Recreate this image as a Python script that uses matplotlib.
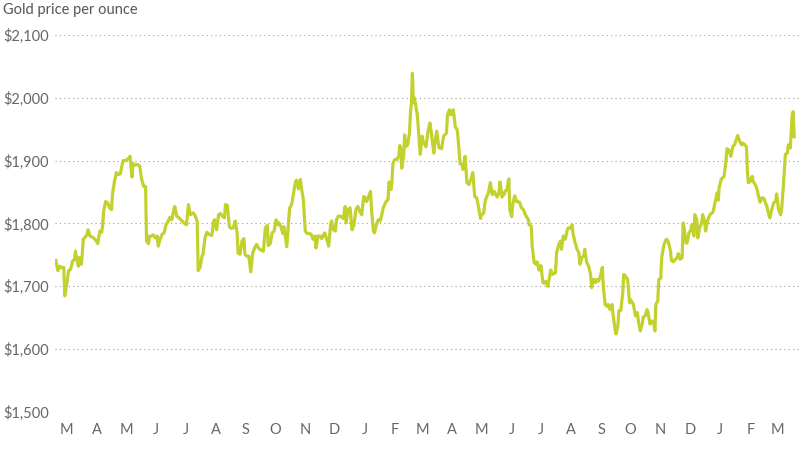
import matplotlib
matplotlib.use("Agg")
import matplotlib.pyplot as plt
import pandas as pd
import numpy as np

plt.rcParams['font.family'] = ['Lato', 'DejaVu Sans']

# Days since 2021-03-01 and gold price per ounce (USD)
days = [4, 5, 6, 8, 10, 12, 13, 15, 17, 19, 21, 23, 24, 25, 27, 28, 30, 31, 32, 34,
        36, 37, 39, 42, 44, 47, 49, 51, 52, 53, 55, 57, 59, 61, 62, 64, 65, 66, 68, 70,
        72, 73, 75, 77, 79, 80, 82, 83, 85, 88, 90, 92, 94, 96, 97, 99, 100, 102, 104, 106,
        108, 109, 111, 113, 115, 117, 119, 121, 123, 125, 126, 128, 131, 133, 136, 138, 140, 141, 142, 145,
        147, 149, 150, 152, 154, 155, 157, 159, 161, 164, 166, 167, 169, 171, 173, 174, 177, 178, 180, 182,
        184, 186, 188, 190, 191, 193, 195, 197, 198, 200, 202, 204, 206, 208, 210, 212, 215, 217, 219, 221,
        222, 224, 226, 228, 230, 232, 233, 235, 237, 238, 241, 243, 244, 246, 248, 250, 251, 253, 255, 256,
        258, 260, 262, 264, 266, 268, 270, 271, 273, 275, 277, 279, 280, 282, 284, 286, 287, 289, 291, 292,
        294, 297, 299, 301, 302, 304, 306, 308, 310, 312, 314, 316, 318, 320, 321, 323, 325, 327, 328, 330,
        331, 333, 335, 337, 339, 340, 343, 345, 346, 348, 349, 350, 352, 354, 356, 357, 358, 359, 361, 362,
        363, 365, 367, 368, 369, 370, 371, 372, 373, 375, 376, 378, 380, 381, 383, 384, 386, 388, 389, 392,
        393, 395, 397, 398, 400, 402, 405, 406, 408, 409, 411, 412, 414, 416, 417, 419, 421, 422, 424, 426,
        428, 430, 432, 434, 436, 438, 440, 441, 443, 445, 446, 448, 450, 452, 454, 457, 459, 460, 462, 464,
        465, 467, 469, 470, 472, 473, 475, 477, 480, 482, 484, 486, 489, 490, 492, 493, 495, 497, 498, 500,
        502, 504, 506, 507, 509, 511, 512, 514, 517, 518, 520, 522, 523, 525, 527, 529, 530, 532, 534, 535,
        537, 539, 541, 542, 544, 546, 547, 549, 551, 553, 554, 556, 558, 559, 561, 563, 565, 566, 568, 570,
        571, 573, 575, 576, 578, 579, 581, 582, 584, 586, 587, 589, 591, 593, 594, 595, 597, 599, 601, 602,
        604, 606, 607, 609, 611, 612, 614, 616, 618, 619, 620, 622, 623, 625, 626, 628, 630, 631, 633, 635,
        636, 638, 640, 642, 643, 645, 647, 648, 649, 651, 652, 654, 656, 657, 659, 660, 662, 663, 665, 667,
        668, 670, 671, 672, 674, 676, 678, 679, 681, 683, 684, 685, 687, 688, 690, 692, 693, 695, 697, 699,
        701, 702, 704, 706, 708, 709, 711, 713, 714, 715, 717, 719, 720, 722, 724, 725, 727, 729, 731, 732,
        734, 736, 737, 739, 741, 743, 744, 746, 748, 749, 751, 753, 755, 756, 758, 760, 761, 762]

prices = [1741, 1732, 1725, 1732, 1730, 1730, 1685, 1703, 1725, 1727, 1740, 1743, 1756, 1746, 1732, 1746, 1735, 1751, 1775, 1778,
          1783, 1790, 1780, 1778, 1775, 1768, 1788, 1786, 1798, 1820, 1835, 1833, 1825, 1822, 1846, 1867, 1873, 1881, 1878, 1879,
          1894, 1900, 1900, 1902, 1904, 1907, 1874, 1896, 1893, 1894, 1891, 1870, 1859, 1859, 1772, 1768, 1780, 1780, 1782, 1777,
          1780, 1764, 1775, 1783, 1785, 1798, 1803, 1810, 1806, 1822, 1827, 1812, 1808, 1805, 1800, 1798, 1830, 1822, 1814, 1817,
          1812, 1804, 1725, 1730, 1748, 1751, 1777, 1786, 1783, 1781, 1804, 1806, 1790, 1814, 1816, 1813, 1809, 1830, 1829, 1795,
          1792, 1793, 1804, 1785, 1753, 1751, 1772, 1776, 1751, 1748, 1748, 1723, 1753, 1761, 1767, 1761, 1757, 1756, 1793, 1797,
          1765, 1768, 1785, 1788, 1806, 1798, 1801, 1795, 1784, 1795, 1763, 1806, 1825, 1830, 1849, 1867, 1869, 1855, 1870, 1857,
          1838, 1788, 1784, 1784, 1783, 1775, 1780, 1761, 1780, 1780, 1776, 1783, 1785, 1775, 1764, 1798, 1804, 1790, 1788, 1806,
          1812, 1811, 1808, 1827, 1801, 1822, 1825, 1790, 1798, 1822, 1827, 1819, 1814, 1843, 1842, 1835, 1843, 1851, 1822, 1788,
          1785, 1798, 1806, 1804, 1817, 1825, 1835, 1838, 1866, 1854, 1867, 1896, 1902, 1902, 1907, 1924, 1920, 1888, 1907, 1941,
          1922, 1925, 1944, 1976, 1992, 2039, 1992, 2000, 1992, 1973, 1954, 1910, 1939, 1931, 1925, 1922, 1947, 1960, 1949, 1912,
          1928, 1947, 1922, 1920, 1919, 1939, 1944, 1973, 1981, 1973, 1976, 1981, 1954, 1949, 1933, 1895, 1894, 1886, 1907, 1865,
          1862, 1870, 1881, 1843, 1841, 1825, 1808, 1814, 1816, 1838, 1841, 1849, 1865, 1846, 1851, 1842, 1850, 1866, 1842, 1846,
          1851, 1854, 1871, 1822, 1811, 1830, 1844, 1835, 1834, 1825, 1822, 1814, 1806, 1798, 1796, 1764, 1738, 1735, 1739, 1726,
          1733, 1706, 1705, 1708, 1700, 1716, 1726, 1719, 1722, 1753, 1765, 1772, 1759, 1780, 1775, 1790, 1793, 1792, 1798, 1783,
          1770, 1759, 1753, 1735, 1746, 1748, 1759, 1738, 1732, 1719, 1698, 1711, 1706, 1711, 1708, 1716, 1730, 1700, 1671, 1668,
          1671, 1663, 1671, 1656, 1632, 1624, 1637, 1661, 1662, 1690, 1719, 1716, 1711, 1674, 1679, 1676, 1671, 1653, 1658, 1645,
          1629, 1640, 1651, 1653, 1663, 1658, 1640, 1645, 1640, 1629, 1671, 1677, 1711, 1713, 1746, 1764, 1773, 1775, 1770, 1756,
          1741, 1739, 1743, 1746, 1752, 1743, 1746, 1801, 1793, 1769, 1769, 1785, 1790, 1798, 1780, 1814, 1806, 1777, 1793, 1801,
          1814, 1804, 1788, 1796, 1809, 1815, 1817, 1820, 1835, 1849, 1837, 1857, 1870, 1872, 1875, 1899, 1919, 1917, 1907, 1922,
          1926, 1931, 1940, 1931, 1925, 1928, 1926, 1922, 1883, 1865, 1867, 1875, 1867, 1862, 1854, 1846, 1834, 1841, 1840, 1835,
          1827, 1814, 1809, 1822, 1833, 1835, 1847, 1822, 1814, 1820, 1862, 1910, 1912, 1925, 1920, 1973, 1978, 1938]

month_labels = ['M', 'A', 'M', 'J', 'J', 'A', 'S', 'O', 'N', 'D', 'J', 'F',
                'M', 'A', 'M', 'J', 'J', 'A', 'S', 'O', 'N', 'D', 'J', 'F', 'M']
y_ticks = [1500, 1600, 1700, 1800, 1900, 2000, 2100]
title_text = "Gold price per ounce"

start = pd.Timestamp('2021-03-01')
dates = start + pd.to_timedelta(days, unit='D')
month_pos = pd.date_range('2021-03-01', periods=len(month_labels), freq='MS') + pd.Timedelta(days=15)

fig = plt.figure(figsize=(8, 4.54), dpi=100)
ax = fig.add_axes([55/800, 1 - 412/454, 745/800, (412 - 35)/454])

ax.plot(dates, prices, color='#c3d12e', lw=2.3, solid_joinstyle='round', zorder=3)

ax.set_ylim(1500, 2100)
ax.set_xlim(start + pd.Timedelta(days=3), start + pd.Timedelta(days=768))
ax.set_yticks(y_ticks)
ax.set_yticklabels([f"${v:,}" for v in y_ticks])
ax.set_xticks(month_pos)
ax.set_xticklabels(month_labels)

for s in ax.spines.values():
    s.set_visible(False)
ax.grid(axis='y', color='#9a9a9a', lw=0.8, linestyle=(0, (1, 3)))
ax.grid(axis='x', visible=False)
ax.tick_params(axis='both', length=0, labelsize=10.5, labelcolor='#666666')
ax.tick_params(axis='y', pad=52 * 0.72)
ax.tick_params(axis='x', pad=8)
for lab in ax.get_yticklabels():
    lab.set_horizontalalignment('left')

fig.text(3/800, 1 - 10/454, title_text, ha='left', va='center', fontsize=10.5, color='#555555')

fig.savefig('out.png', dpi=100)
